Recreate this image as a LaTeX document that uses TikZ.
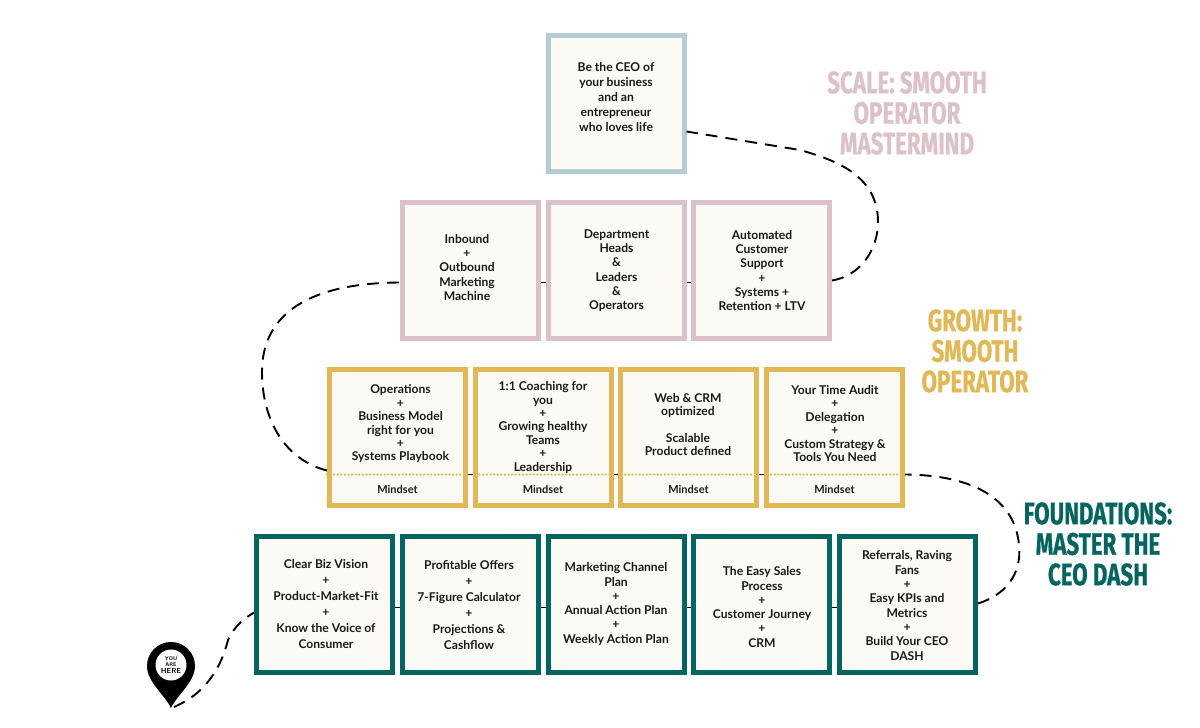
\documentclass[tikz,border=0pt]{standalone}
\usepackage{fontspec}
\setmainfont{Lato}
\newfontfamily\headfont{Fira Sans}[FakeStretch=0.72,FakeBold=0.6]
\definecolor{cardfill}{HTML}{FBFAF5}
\definecolor{ceoblue}{HTML}{B3CCD6}
\definecolor{scalepink}{HTML}{DCC1C7}
\definecolor{growthgold}{HTML}{E2B857}
\definecolor{dashteal}{HTML}{04645F}
\tikzset{
  card/.style={draw, line width=5pt, fill=cardfill, minimum size=136pt, inner sep=0pt,
    xshift=-.5pt, yshift=.5pt},
  bodytext/.style={align=center, inner sep=0pt, text=black!90, font=\bfseries\fontsize{12.1}{13.4}\selectfont},
  widetext/.style={bodytext, font=\bfseries\fontsize{12.1}{14.3}\selectfont},
  tallertext/.style={bodytext, font=\bfseries\fontsize{12.1}{16}\selectfont},
  headline/.style={align=center, inner sep=0pt, font=\headfont\bfseries\fontsize{31}{30.5}\selectfont},
  trail/.style={line width=1.9pt, dash pattern=on 12pt off 8pt, black},
  gap/.style={line width=1.9pt, black}
}
\begin{document}
\begin{tikzpicture}[x=1pt,y=-1pt]
  \useasboundingbox (0,0) rectangle (1200,728);

  % top
  \node [card, draw=ceoblue] (ceo) at (616.5,104) {};
  \node [bodytext, font=\bfseries\fontsize{12.1}{15}\selectfont] (ceotext) at (616,97)
  {Be the CEO of\\your business\\and an\\entrepreneur\\who loves life};

  % scale
  \node [card, draw=scalepink] (inbound) at (471,270.5) {};
  \node [card, draw=scalepink] (heads) at (616.5,270.5) {};
  \node [card, draw=scalepink] (support) at (762,270.5) {};
  \node [widetext] (inboundtext) at (467,267.5) {Inbound\\+\\Outbound\\Marketing\\Machine};
  \node [widetext] (headstext) at (616.5,270.5) {Department\\Heads\\\&\\Leaders\\\&\\Operators};
  \node [widetext] (supporttext) at (762,270.5) {Automated\\Customer\\Support\\+\\Systems +\\Retention + LTV};

  % growth
  \node [card, draw=growthgold] (ops) at (398,438) {};
  \node [card, draw=growthgold] (coach) at (543.5,438) {};
  \node [card, draw=growthgold] (web) at (689,438) {};
  \node [card, draw=growthgold] (audit) at (835,438) {};
  \node [bodytext] (opstext) at (400.5,424) {Operations\\+\\Business Model\\right for you\\+\\Systems Playbook};
  \node [bodytext] (coachtext) at (543,427.5) {1:1 Coaching for\\you\\+\\Growing healthy\\Teams\\+\\Leadership};
  \node [bodytext] (webtext) at (688,424.5) {Web \& CRM\\optimized\\[13.4pt]Scalable\\Product defined};
  \node [bodytext] (audittext) at (835,423.5) {Your Time Audit\\+\\Delegation\\+\\Custom Strategy \&\\Tools You Need};
  \foreach \name in {ops,coach,web,audit} {
    \draw [growthgold, line width=2.5pt, line cap=round, dash pattern=on 0pt off 3.6pt]
    ([yshift=-37pt]\name.west) -- ([yshift=-37pt]\name.east);
    \node [bodytext, font=\bfseries\fontsize{11}{13}\selectfont] (\name mind) at ([yshift=-52pt]\name.center) {Mindset};
  }

  % foundations
  \node [card, draw=dashteal] (vision) at (325,605) {};
  \node [card, draw=dashteal] (offers) at (471,605) {};
  \node [card, draw=dashteal] (channel) at (616.5,605) {};
  \node [card, draw=dashteal] (sales) at (762,605) {};
  \node [card, draw=dashteal] (referrals) at (908,605) {};
  \node [tallertext] (visiontext) at (326,604.5) {Clear Biz Vision\\+\\Product-Market-Fit\\+\\Know the Voice of\\Consumer};
  \node [tallertext] (offerstext) at (469,605) {Profitable Offers\\+\\7-Figure Calculator\\+\\Projections \&\\Cashflow};
  \node [widetext] (channeltext) at (616,604) {Marketing Channel\\Plan\\+\\Annual Action Plan\\+\\Weekly Action Plan};
  \node [widetext] (salestext) at (762,607) {The Easy Sales\\Process\\+\\Customer Journey\\+\\CRM};
  \node [widetext] (referralstext) at (907,605.5) {Referrals, Raving\\Fans\\+\\Easy KPIs and\\Metrics\\+\\Build Your CEO\\DASH};

  % headings
  \node [headline, text=scalepink] (scalehead) at (907,113) {SCALE: SMOOTH\\OPERATOR\\MASTERMIND};
  \node [headline, text=growthgold] (growthhead) at (975,351) {GROWTH:\\SMOOTH\\OPERATOR};
  \node [headline, text=dashteal] (dashhead) at (1098,544) {FOUNDATIONS:\\MASTER THE\\CEO DASH};

  % pin
  \fill (171,708) .. controls (165,695) and (147,682) .. (147,666)
  arc [start angle=180, end angle=0, radius=24pt]
  .. controls (195,682) and (177,695) .. (171,708) -- cycle;
  \node [circle, fill=white, minimum size=31pt, inner sep=0pt, align=center, font=\sffamily\bfseries\fontsize{5.4}{6.2}\selectfont] (here) at (171,665)
  {YOU\\ARE\\{\fontsize{7.2}{7.4}\selectfont HERE}};
  \coordinate (pintip) at (174,707);

  % trail
  \coordinate (pinbend) at (228,640);
  \coordinate (dashbend) at (1019,545);
  \coordinate (opsbend) at (262,372);
  \coordinate (scalebend) at (878,222);

  \draw [trail] (pintip) .. controls (195,698) and (218,680) .. (pinbend)
  .. controls (235,625) and (245,618) .. ([yshift=-8pt]vision.west);
  \foreach \a/\b in {vision/offers,offers/channel,channel/sales,sales/referrals} {
    \draw [gap] ([yshift=-3pt]\a.east) -- ([yshift=-3pt]\b.west);
  }
  \draw [trail] ([yshift=1pt]referrals.east) .. controls (1005,595) and (1022,575) .. (dashbend)
  .. controls (1015,500) and (975,475) .. ([yshift=-37pt]audit.east);
  \foreach \a/\b in {audit/web,web/coach,coach/ops} {
    \draw [gap] ([yshift=-37pt]\a.west) -- ([yshift=-37pt]\b.east);
  }
  \draw [trail] ([yshift=-33pt]ops.west) .. controls (285,460) and (262,420) .. (opsbend)
  .. controls (262,320) and (300,283) .. ([yshift=-12.5pt]inbound.west);
  \foreach \a/\b in {inbound/heads,heads/support} {
    \draw [gap] ([yshift=-12.5pt]\a.east) -- ([yshift=-12.5pt]\b.west);
  }
  \draw [trail] ([yshift=-10.5pt]support.east) .. controls (860,276) and (878,250) .. (scalebend)
  .. controls (878,175) and (835,160) .. (800,150) -- ([yshift=-28pt]ceo.east);
\end{tikzpicture}
\end{document}
